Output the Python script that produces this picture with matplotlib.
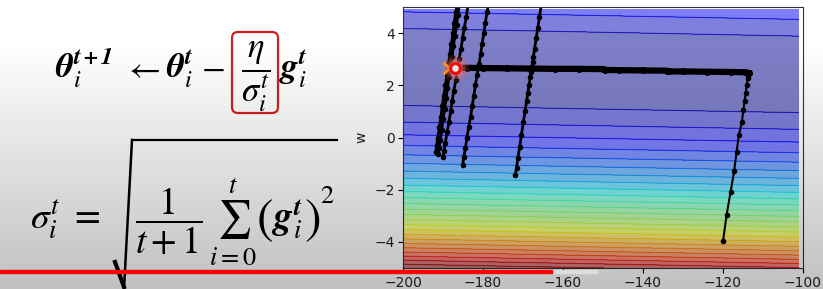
import matplotlib
matplotlib.use('Agg')
import matplotlib.pyplot as plt
import numpy as np
from matplotlib.patches import FancyBboxPatch, Rectangle
from matplotlib.lines import Line2D
from matplotlib.transforms import IdentityTransform

plt.rcParams['mathtext.fontset'] = 'stix'

W, H = 823, 289

# training data behind the loss surface
x_data = [338., 333., 328., 207., 226., 25., 179., 60., 208., 606.]
y_data = [640., 633., 619., 393., 428., 27., 193., 66., 226., 1591.]

b_grid = np.arange(-200, -100, 1)
w_grid = np.arange(-5, 5, 0.1)

# adagrad run: climbs first, then slides left to the optimum
climb_b = [-120.0, -119.1, -118.1, -117.2, -116.6, -116.0, -115.3, -114.9, -114.6,
           -114.3, -114.1, -113.8, -113.7, -113.6]
climb_w = [-3.98, -2.97, -2.08, -1.27, -0.54, 0.11, 0.58, 1.05, 1.41,
           1.69, 2.01, 2.27, 2.40, 2.47]
slide_b = [-113.6, -114.5, -118, -124, -130, -133.5, -134, -140, -146, -149.5, -150,
           -156, -162, -168, -174, -180, -184, -186.8]
slide_w = [2.47, 2.50, 2.51, 2.52, 2.53, 2.53, 2.56, 2.57, 2.58, 2.59, 2.62,
           2.63, 2.63, 2.64, 2.65, 2.66, 2.67, 2.67]

# older runs still on the plot
run_a1_b = [-191.8, -191.6, -191.3, -190.9, -190.5, -190.2, -189.8, -189.4, -189.0,
            -188.7, -188.3, -187.9, -187.5, -187.2, -186.8, -186.4]
run_a1_w = [-0.55, -0.3, 0.0, 0.4, 0.8, 1.2, 1.6, 2.0, 2.4, 2.8, 3.2, 3.6, 4.0, 4.4, 4.8, 5.2]
run_a2_b = [-191.2, -191.0, -190.7, -190.3, -190.0, -189.6, -189.2, -188.9, -188.5,
            -188.1, -187.7, -187.4, -187.0, -186.6, -186.3, -185.8]
run_a2_w = [-0.62, -0.4, -0.1, 0.3, 0.7, 1.1, 1.5, 1.9, 2.3, 2.7, 3.1, 3.5, 3.9, 4.3, 4.7, 5.2]
run_b_b = [-190.0, -189.7, -189.4, -189.0, -188.5, -188.1, -187.7, -187.3, -186.8,
           -186.4, -186.0, -185.5, -185.1, -184.7, -184.2, -183.6]
run_b_w = [-0.76, -0.5, -0.2, 0.2, 0.6, 1.0, 1.4, 1.8, 2.2, 2.6, 3.0, 3.4, 3.8, 4.2, 4.6, 5.2]
run_c_b = [-185.1, -184.8, -184.4, -184.0, -183.6, -183.1, -182.7, -182.3, -181.9,
           -181.5, -181.0, -180.6, -180.2, -179.8, -179.4, -179.0, -178.5]
run_c_w = [-1.06, -0.75, -0.4, 0.0, 0.4, 0.8, 1.2, 1.6, 2.0, 2.4, 2.8, 3.2, 3.6, 4.0, 4.4, 4.8, 5.2]
run_d_b = [-171.9, -171.6, -171.3, -170.8, -170.4, -169.9, -169.5, -169.1, -168.8, -168.5,
           -168.2, -168.0, -167.8, -167.6, -167.4, -167.1, -166.7, -166.3, -165.9, -165.3]
run_d_w = [-1.42, -1.15, -0.8, -0.35, 0.1, 0.6, 1.0, 1.4, 1.7, 2.0,
           2.3, 2.5, 2.7, 2.9, 3.1, 3.4, 3.8, 4.2, 4.6, 5.2]

b_star, w_star = -188.6, 2.67
pointer_b, pointer_w = -186.9, 2.67


def px(x, y):
    return x / W, 1 - y / H


# loss surface
B, Wm = np.meshgrid(b_grid, w_grid)
Z = np.zeros_like(B, dtype=float)
for xn, yn in zip(x_data, y_data):
    Z += (yn - B - Wm * xn) ** 2
Z /= len(x_data)

fig = plt.figure(figsize=(W / 100, H / 100), dpi=100)
ax = fig.add_axes([403 / W, 1 - 268 / H, 400 / W, 261 / H])
ax.contourf(b_grid, w_grid, Z, 25, alpha=0.5, cmap='jet')
ax.contour(b_grid, w_grid, Z, 25, cmap='jet', linewidths=0.8, alpha=0.5)

for bb, ww in [(run_a1_b, run_a1_w), (run_a2_b, run_a2_w), (run_b_b, run_b_w),
               (run_c_b, run_c_w), (run_d_b, run_d_w)]:
    ax.plot(bb, ww, 'o-', ms=3, lw=2, color='black')
ax.plot(climb_b, climb_w, 'o-', ms=3, lw=1.5, color='black')
ax.plot(slide_b, slide_w, 'o-', ms=4, lw=4.5, color='black')

ax.plot([b_star], [w_star], 'x', ms=9, markeredgewidth=2, color='orange')
# pointer highlight
for ms, a in [(20, 0.15), (15, 0.3), (11, 0.55)]:
    ax.plot([pointer_b], [pointer_w], 'o', ms=ms, color='#ff7060', alpha=a, mew=0)
ax.plot([pointer_b], [pointer_w], 'o', ms=7, mfc='#ffe8e8', mec='#ee1010', mew=2.2)

ax.set_xlim(-200, -100)
ax.set_ylim(-5, 5)
ax.set_xticks([-200, -180, -160, -140, -120, -100])
ax.set_yticks([-4, -2, 0, 2, 4])
ax.tick_params(labelsize=10, labelcolor='#222222', pad=2.5)
ax.set_ylabel('w', fontsize=10, color='#222222')
for s in ax.spines.values():
    s.set_color('#333333')

# update rule, placed piece by piece
fs1 = 25
fig.text(*px(55, 78), r'$\mathbfit{\theta}_i^{\mathbfit{t+1}}$', fontsize=fs1, va='baseline')
fig.text(*px(123, 78), r'$\leftarrow$', fontsize=fs1, va='baseline')
fig.text(*px(166, 78), r'$\mathbfit{\theta}_i^{\mathbfit{t}}$', fontsize=fs1, va='baseline')
fig.text(*px(201, 78), r'$-$', fontsize=fs1, va='baseline')
fig.text(*px(256, 78), r'$\dfrac{\eta}{\sigma_i^t}$', fontsize=fs1, va='baseline', ha='center')
fig.text(*px(279, 78), r'$\mathbfit{g}_i^{\mathbfit{t}}$', fontsize=fs1, va='baseline')

# sigma definition
fs2 = 27
fig.text(*px(30, 229), r'$\sigma_i^t\ =$', fontsize=fs2, va='baseline')
fig.text(*px(135, 229), r'$\dfrac{1}{t+1}\,\sum_{i=0}^{t}$', fontsize=fs2, va='baseline')
fig.text(*px(256, 233), r'$($', fontsize=36, va='baseline')
fig.text(*px(272, 229), r'$\mathbfit{g}_i^{\mathbfit{t}}$', fontsize=fs2, va='baseline')
fig.text(*px(304, 233), r'$)$', fontsize=36, va='baseline')
fig.text(*px(320, 203), r'$2$', fontsize=19, va='baseline')

# radical sign drawn by hand, it runs off the slide
idt = IdentityTransform()
fig.add_artist(Line2D([132, 337], [H - 140, H - 140], transform=idt, color='black', lw=1.6))
fig.add_artist(Line2D([132, 124], [H - 140, H - 289], transform=idt, color='black', lw=1.8))
fig.add_artist(Line2D([115, 124], [H - 262, H - 287], transform=idt, color='black', lw=3))

# red box around the learning rate term
fig.add_artist(FancyBboxPatch((235, H - 110), 40, 75, boxstyle='round,pad=3,rounding_size=6',
                              transform=idt, fill=False, ec='#d42020', lw=1.6))

# video shading
grad = np.clip((np.arange(H) - 40) / (H - 40), 0, 1) * 0.25
shade = np.zeros((H, 2, 4))
shade[:, :, 3] = grad[:, None]
ov = fig.add_axes([0, 0, 1, 1], zorder=10)
ov.imshow(shade, aspect='auto', extent=[0, 1, 0, 1])
ov.axis('off')

# progress bar
fig.add_artist(Rectangle((552, H - 272.5), 45, 3, transform=idt, color='#dddddd', zorder=20))
fig.add_artist(Rectangle((0, H - 272.5), 552, 3, transform=idt, color='#ff0000', zorder=21))

fig.savefig('out.png', dpi=100)
